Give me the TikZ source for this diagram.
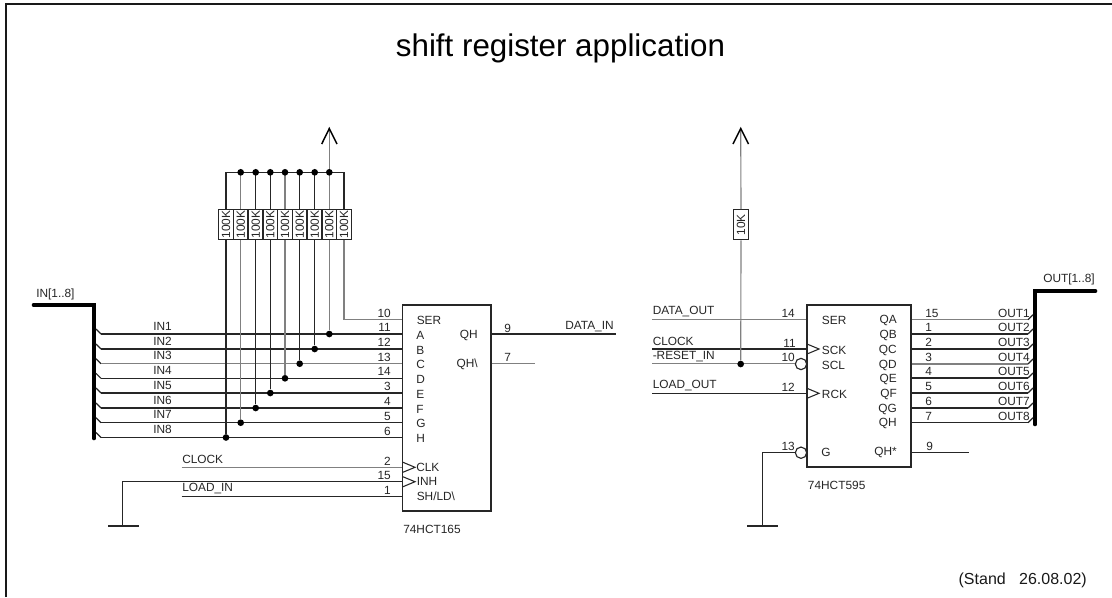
\documentclass[tikz,border=0pt]{standalone}
\usepackage{fontspec}
\setmainfont{Liberation Sans}
\tikzset{
  wire/.style={line width=0.85pt,black!85},
  lwire/.style={line width=0.85pt,black!50},
  bus/.style={line width=3.5pt,black,line cap=round,line join=miter},
  dotnode/.style={circle,fill=black,draw=none,inner sep=0pt,minimum size=5pt},
  resbox/.style={draw=black!85,line width=0.85pt,fill=white,minimum width=11pt,minimum height=22.5pt,inner sep=0pt},
  icbox/.style={draw=black!85,line width=1pt,inner sep=0pt},
  lbl/.style={font=\fontsize{8.9pt}{8.9pt}\selectfont,inner sep=0pt,text=black!85},
  llbl/.style={lbl,anchor=west},
  rlbl/.style={lbl,anchor=east},
  pinr/.style={lbl,anchor=east},
  resval/.style={font=\fontsize{8.9pt}{8.9pt}\selectfont,inner sep=0pt,rotate=90,text=black!85},
  clockpin/.style={line width=0.8pt,black!85},
  notcirc/.style={circle,draw=black!85,line width=0.85pt,fill=white,minimum size=8.5pt,inner sep=0pt}
}
\begin{document}
\begin{tikzpicture}[x=0.75pt,y=-0.75pt]
\useasboundingbox (0,0) rectangle (1112,597);
\fill[white] (0,0) rectangle (1112,597);
% frame
\draw[line width=1pt,black!90] (6,597) -- (6,4) -- (1112,4);
% title
\node[inner sep=0pt,font=\fontsize{23.5pt}{23.5pt}\selectfont] (title) at (560.5,48.5) {shift register application};
\node[anchor=east,inner sep=0pt,font=\fontsize{12pt}{12pt}\selectfont,text=black!90] (stand) at (1087,580) {(Stand\hspace{10pt}26.08.02)};

% ---------- left IC
\node[icbox,minimum width=66.5pt,minimum height=154.5pt] (ica) at (446.5,408) {};
\draw[bus] (34,305) -- (94,305) -- (94,438);
\node[llbl] (inbus) at (36,294) {IN[1..8]};

\foreach \n/\y/\lab/\pin/\pl/\col/\vx in {
 1/334/A/11/IN1/wire/329.3,
 2/349/B/12/IN2/wire/314.7,
 3/363.7/C/13/IN3/lwire/299.7,
 4/378.3/D/14/IN4/wire/285,
 5/393/E/3/IN5/wire/270.3,
 6/408/F/4/IN6/wire/255.7,
 7/422.7/G/5/IN7/wire/240.7,
 8/437.5/H/6/IN8/wire/226}{
  \coordinate (e\n) at (96,\y-5);
  \coordinate (s\n) at (101,\y);
  \coordinate (p\n) at (402,\y);
  \draw[wire] (e\n) -- (s\n);
  \draw[\col] (s\n) -- (p\n);
  \node[llbl] (inlab\n) at (153,\y-8) {\pl};
  \node[pinr] (pinnum\n) at (391,\y-6.5) {\pin};
  \node[llbl] (icpin\n) at (416,\y+1) {\lab};
  \node[dotnode] (jd\n) at (\vx,\y) {};
}
% resistor columns
\foreach \i/\x/\col/\j in {0/226/wire/8,1/240.7/lwire/7,2/255.7/wire/6,3/270.3/wire/5,4/285/lwire/4,5/299.7/wire/3,6/314.7/wire/2,7/329.3/lwire/1,8/344/wire/0}{
  \node[resbox] (r\i) at (\x,224.7) {};
  \node[resval] (rv\i) at (\x,224.7) {100K};
  \coordinate (top\i) at (\x,172.3);
  \ifnum\j>0
    \draw[\col] (top\i) -- (r\i.north);
    \draw[\col] (r\i.south) -- (jd\j);
  \fi
}
\draw[wire] (top0) -- (r0.north);
\draw[wire] (r8.north) -- (top8);
\coordinate (ser1) at (402,319.3);
\draw[lwire] (r8.south) |- (ser1);
\draw[wire] (top0) -- (top8);
\foreach \i in {1,...,7}{\node[dotnode] (td\i) at (top\i) {};}
% supply arrow left
\coordinate (vcc1) at (329.3,128.5);
\draw[lwire] (td7) -- (vcc1);
\draw[line width=1.1pt,black] (321.7,144) -- (vcc1) -- (337,144);

\node[pinr] (pin10) at (391,313) {10};
\node[llbl] (serA) at (416.5,320.5) {SER};
% lower pins left
\coordinate (clk1) at (181.7,467.3);
\coordinate (clkp) at (402,467.3);
\coordinate (load1) at (181.7,496.7);
\coordinate (loadp) at (402,496.7);
\coordinate (inhp) at (402,481.7);
\coordinate (gnd1) at (122.7,526);
\draw[lwire] (clk1) -- (clkp);
\draw[wire] (load1) -- (loadp);
\draw[wire] (inhp) -| (gnd1);
\draw[wire] (108,526) -- (139,526);
\node[llbl] (clklab) at (182,459.5) {CLOCK};
\node[llbl] (loadlab) at (182,489) {LOAD\_IN};
\node[pinr] (p2) at (391,461) {2};
\node[pinr] (p15) at (391,475.5) {15};
\node[pinr] (p1) at (391,490) {1};
\draw[clockpin] (402.3,462) -- (415,467.3) -- (402.3,472.5);
\draw[clockpin] (402.3,476.5) -- (415,481.7) -- (402.3,487);
\node[llbl] (lclk) at (416,467.5) {CLK};
\node[llbl] (linh) at (416.5,481.5) {INH};
\node[llbl] (lsh) at (416.5,496.5) {SH/LD\textbackslash};
\node[rlbl] (lqh) at (478,335) {QH};
\node[rlbl] (lqhn) at (478,364) {QH\textbackslash};
\coordinate (dout) at (616,334);
\coordinate (qhnend) at (535,363.7);
\draw[wire] (ica.east |- dout) -- (dout);
\draw[lwire] (ica.east |- qhnend) -- (qhnend);
\node[lbl] (n9a) at (507.7,328) {9};
\node[lbl] (n7a) at (507.7,357) {7};
\node[llbl] (datain) at (565,327) {DATA\_IN};
\node[llbl] (na) at (403,529) {74HCT165};

% ---------- right IC
\node[icbox,minimum width=78pt,minimum height=121.5pt] (icb) at (859,386) {};
\coordinate (dl) at (652.3,319.3);
\coordinate (cl) at (652.3,349);
\coordinate (rl) at (652.3,363.7);
\coordinate (ll) at (652.3,393.3);
\node[notcirc] (nc1) at (801,364) {};
\node[notcirc] (nc2) at (801,452.7) {};
\draw[lwire] (dl) -- (icb.west |- dl);
\draw[wire] (cl) -- (icb.west |- cl);
\draw[lwire] (rl) -- (nc1.west |- rl);
\draw[wire] (ll) -- (icb.west |- ll);
\node[llbl] (ldo) at (652.5,311.5) {DATA\_OUT};
\node[llbl] (lck) at (652.5,341.7) {CLOCK};
\node[llbl] (lrs) at (652.5,356.5) {-RESET\_IN};
\node[llbl] (llo) at (652.5,386) {LOAD\_OUT};
\node[pinr] (n14) at (795,313.5) {14};
\node[pinr] (n11) at (796,343) {11};
\node[pinr] (n10) at (795,357) {10};
\node[pinr] (n12) at (795,387.5) {12};
\node[pinr] (n13) at (795,446.5) {13};
\node[dotnode] (jr) at (740.7,364) {};
\node[resbox] (r10) at (741,224.7) {};
\node[resval] (r10v) at (741,224.7) {10K};
\coordinate (vcc2) at (740.7,128.5);
\draw[lwire] (jr) -- (r10.south);
\draw[lwire] (r10.north) -- (vcc2);
\draw[line width=1.1pt,black] (733,144) -- (vcc2) -- (748.5,144);
\draw[clockpin] (807,344) -- (819,349) -- (807,354);
\draw[clockpin] (807,388.3) -- (819,393.3) -- (807,398.3);
\coordinate (gnd2) at (762.7,526);
\draw[wire] (nc2.west) -| (gnd2);
\draw[wire] (747.3,526) -- (778,526);
\node[llbl] (b1) at (821.7,320.5) {SER};
\node[llbl] (b2) at (821.7,350) {SCK};
\node[llbl] (b3) at (821.7,365) {SCL};
\node[llbl] (b4) at (821.7,394) {RCK};
\node[llbl] (b5) at (821,452.5) {G};
\node[llbl] (nb) at (807.7,485) {74HCT595};
% outputs
\draw[bus] (1035,424) -- (1035,291) -- (1095,291);
\node[llbl] (outbus) at (1043,279) {OUT[1..8]};
\foreach \n/\y/\lab/\pin/\col in {
 1/319.7/QA/15/lwire,
 2/334/QB/1/wire,
 3/349/QC/2/wire,
 4/364/QD/3/lwire,
 5/378/QE/4/wire,
 6/393/QF/5/wire,
 7/408/QG/6/wire,
 8/422.7/QH/7/wire}{
  \coordinate (qs\n) at (1028,\y);
  \coordinate (qe\n) at (1033,\y-5);
  \draw[\col] (icb.east |- qs\n) -- (qs\n);
  \draw[wire] (qs\n) -- (qe\n);
  \node[rlbl] (ql\n) at (897,\y+1) {\lab};
  \node[llbl] (qn\n) at (925,\y-6.5) {\pin};
  \node[rlbl] (qo\n) at (1030,\y-6.5) {OUT\n};
}
\node[rlbl] (qhs) at (897,452.7) {QH*};
\coordinate (q9) at (969,452.7);
\draw[wire] (icb.east |- q9) -- (q9);
\node[llbl] (n9b) at (926,446) {9};
\end{tikzpicture}
\end{document}
